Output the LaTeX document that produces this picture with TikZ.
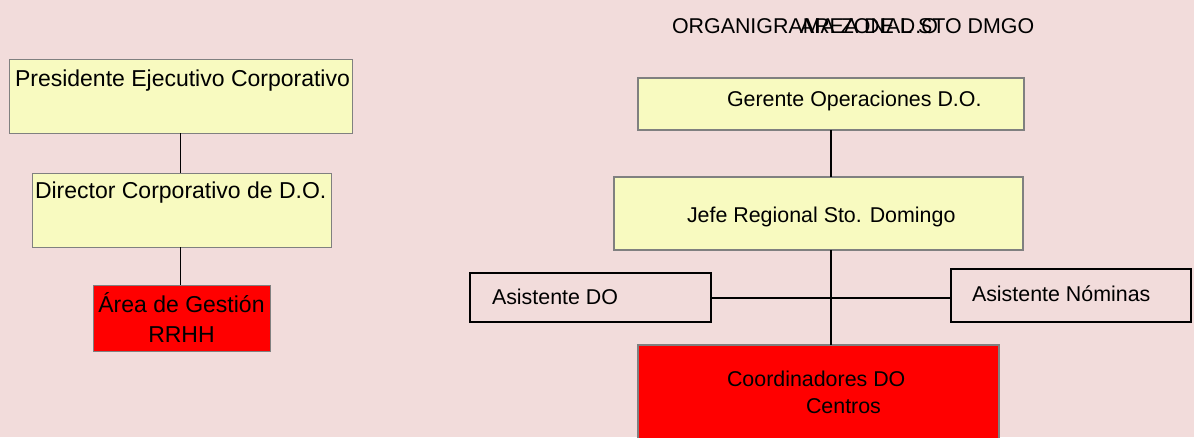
\documentclass[tikz,border=0pt]{standalone}
\usepackage{fontspec}
\setmainfont{Liberation Sans}
\definecolor{bgpink}{RGB}{242,220,219}
\definecolor{paleyellow}{RGB}{248,250,192}
\definecolor{boxgray}{RGB}{128,128,128}
\tikzset{
  box/.style={rectangle, inner sep=0pt, outer sep=0pt},
  ybox/.style={box, fill=paleyellow, draw=boxgray},
  rbox/.style={box, fill=red, draw=boxgray},
  wbox/.style={box, draw=black, line width=1.5pt},
  txt/.style={inner sep=0pt, outer sep=0pt, font=\fontsize{21.4}{25}\selectfont},
  bigtxt/.style={txt, font=\fontsize{23}{27}\selectfont},
  thinlink/.style={draw=black, line width=1pt},
  thicklink/.style={draw=black, line width=2pt},
}
\begin{document}
\begin{tikzpicture}[x=1pt,y=-1pt]
  \fill[bgpink] (0,0) rectangle (1194,437);
  \useasboundingbox (0,0) rectangle (1194,437);
  \clip (0,0) rectangle (1194,437);

  % title lines, printed on top of each other
  \node[txt, anchor=base west] (title) at (672,33) {ORGANIGRAMA ZONAL STO DMGO};
  \node[txt, anchor=base west] (subtitle) at (800,33) {AREA DE D.O};

  % corporate chain (left)
  \node[ybox, line width=1pt, minimum width=343pt, minimum height=74pt] (pres) at (180.5,96) {};
  \node[ybox, line width=1pt, minimum width=299pt, minimum height=74pt] (dir) at (181.5,210) {};
  \node[rbox, line width=1pt, minimum width=177pt, minimum height=66pt] (area) at (181.5,318) {};
  \node[bigtxt, anchor=base west] (presT) at (15,86) {Presidente Ejecutivo Corporativo};
  \node[bigtxt, anchor=base west] (dirT) at (35,198) {Director Corporativo de D.O.};
  \node[bigtxt, anchor=base] (areaT1) at (181.5,312) {Área de Gestión};
  \node[bigtxt, anchor=base] (areaT2) at (181.5,342) {RRHH};
  \draw[thinlink] (pres.south) -- (pres.south |- dir.north);
  \draw[thinlink] (pres.south |- dir.south) -- (pres.south |- area.north);

  % regional chain (right)
  \node[ybox, line width=2.7pt, minimum width=386pt, minimum height=52pt] (ger) at (831,104) {};
  \node[ybox, line width=2.7pt, minimum width=409pt, minimum height=73pt] (jefe) at (818.5,213.5) {};
  \node[wbox, minimum width=241pt, minimum height=49pt] (asd) at (590.5,297.5) {};
  \node[wbox, minimum width=240pt, minimum height=53pt] (asn) at (1071,295.5) {};
  \node[rbox, line width=2.7pt, minimum width=361pt, minimum height=135pt] (coord) at (818.5,412.5) {};

  \node[txt, anchor=base west] (gerT) at (727,106) {Gerente Operaciones D.O.};
  \node[txt, anchor=base west] (jefeT) at (687,222) {Jefe Regional Sto. Domingo};
  \node[txt, anchor=base west] (asdT) at (492,304) {Asistente DO};
  \node[txt, anchor=base west] (asnT) at (972,301) {Asistente Nóminas};
  \node[txt, anchor=base west] (coordT1) at (727,386) {Coordinadores DO};
  \node[txt, anchor=base west] (coordT2) at (806,413) {Centros};

  \draw[thicklink] (ger.south) -- (ger.south |- jefe.north);
  \draw[thicklink] (ger.south |- jefe.south) -- (ger.south |- coord.north);
  \draw[thicklink] (asd.east) -- (asd.east -| asn.west);
\end{tikzpicture}
\end{document}
